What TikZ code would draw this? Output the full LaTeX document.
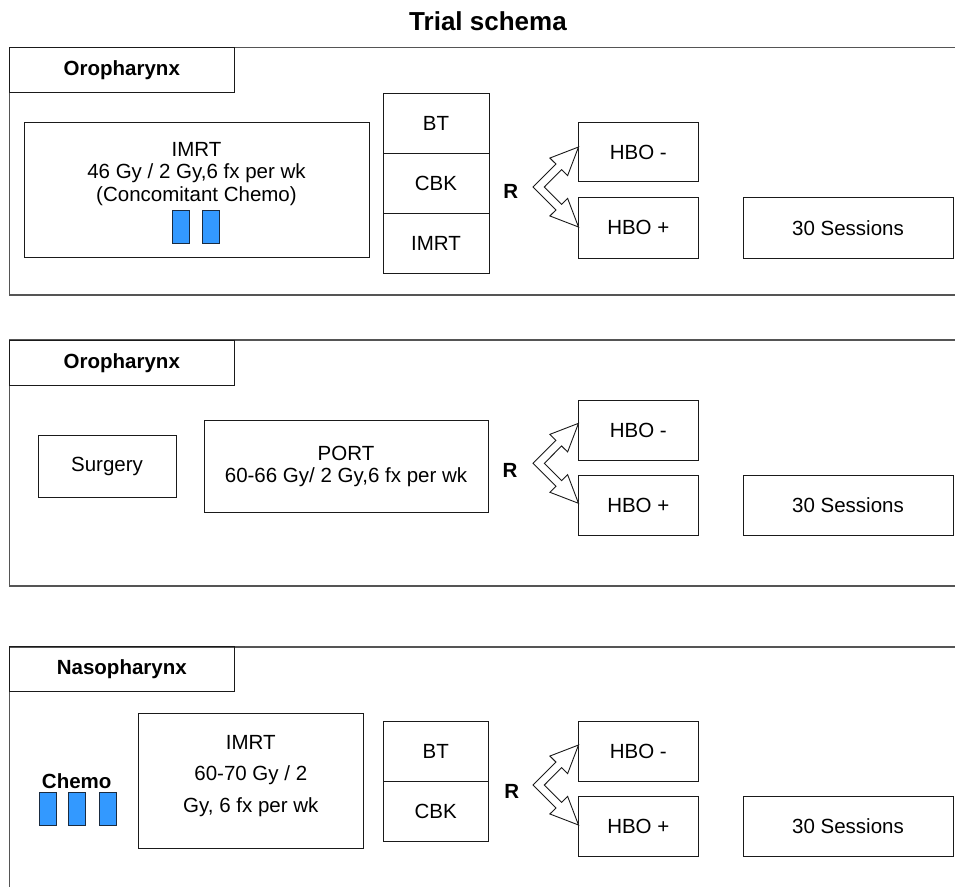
\documentclass[tikz,border=0pt]{standalone}
\usepackage{fontspec}
\setmainfont{Liberation Sans}
\usetikzlibrary{calc}
\definecolor{boxline}{HTML}{1A1A1A}
\definecolor{panelline}{HTML}{555555}
\definecolor{chemoblue}{HTML}{3399FF}
\definecolor{chemoedge}{HTML}{1A2B40}
\tikzset{
  bx/.style={draw=boxline, line width=0.9pt, rectangle, inner sep=0pt, outer sep=0pt, align=center, font=\fontsize{20.5}{23}\selectfont},
  lbl/.style={font=\fontsize{20.5}{23}\selectfont\bfseries},
  txt/.style={inner sep=0pt, outer sep=0pt, align=center, font=\fontsize{20.5}{22.5}\selectfont},
  boldtxt/.style={inner sep=0pt, outer sep=0pt, font=\fontsize{20.5}{23}\selectfont\bfseries},
  pill/.style={draw=chemoedge, fill=chemoblue, line width=1pt, minimum width=17pt, minimum height=32.5pt, inner sep=0pt},
  panel/.style={draw=panelline, line width=1.6pt},
  chev/.style={draw=boxline, fill=white, line width=0.9pt, line join=miter},
}
\newcommand\bxat[7][]{\node[bx,#1,minimum width={#5pt-#3pt},minimum height={#6pt-#4pt}] (#2) at ({(#3+#5)/2},{(#4+#6)/2}) {#7};}
\newcommand\chevron[2]{%
  \coordinate (#1c) at (538.7,#2);
  \coordinate (#1o) at (533.04,#2);
  \coordinate (#1i) at (544.36,#2);
  \coordinate (#1t) at (578.5,{#2-40});
  \coordinate (#1b) at (578.5,{#2+40});
  \coordinate (#1s) at ($(#1t)!28pt!(#1c)$);
  \coordinate (#1r) at ($(#1b)!28pt!(#1c)$);
  \draw[chev] (#1o) -- ($(#1s)!4pt!90:(#1t)$) -- ($(#1s)!12.5pt!90:(#1t)$) -- (#1t)
    -- ($(#1s)!12.5pt!-90:(#1t)$) -- ($(#1s)!4pt!-90:(#1t)$) -- (#1i)
    -- ($(#1r)!4pt!90:(#1b)$) -- ($(#1r)!12.5pt!90:(#1b)$) -- (#1b)
    -- ($(#1r)!12.5pt!-90:(#1b)$) -- ($(#1r)!4pt!-90:(#1b)$) -- cycle;
}
\begin{document}
\begin{tikzpicture}[x=1pt,y=-1pt]
\useasboundingbox (0,0) rectangle (955,886);
\node[font=\fontsize{26}{30}\selectfont\bfseries, inner sep=0pt] (title) at (488,21) {Trial schema};

% ---------- panel 1 ----------
\draw[panel] (956,47.3) -| (9.3,295) -- (956,295);
\bxat[lbl]{lab1}{9.3}{47.3}{234.3}{92.7}{Oropharynx}
\bxat{imrt1}{24}{122.7}{369.3}{257.3}{}
\node[txt, anchor=north] (imrt1t) at (196.5,142) {IMRT\\46 Gy / 2 Gy,6 fx per wk\\(Concomitant Chemo)};
\node[pill] (c1a) at (181.4,227) {};
\node[pill] (c1b) at (211.4,227) {};
\bxat{bt1}{383}{93}{489}{153}{BT}
\bxat{cbk1}{383}{153}{489}{213}{CBK}
\bxat{im1}{383}{213}{489}{273}{IMRT}
\node[boldtxt] (r1) at (510.7,191.7) {R};
\bxat{hm1}{578.3}{122.7}{698.3}{181.7}{HBO -}
\bxat{hp1}{578.3}{197.5}{698.3}{258}{HBO +}
\bxat{ss1}{743}{197.5}{953}{258}{30 Sessions}
\chevron{pa}{187}

% ---------- panel 2 ----------
\draw[panel] (956,340) -| (9.3,586) -- (956,586);
\bxat[lbl]{lab2}{9.3}{340}{234.3}{385.5}{Oropharynx}
\bxat{surg}{38}{435}{176}{497}{Surgery}
\bxat{port}{204}{420}{488}{512}{}
\node[txt, anchor=north] (portt) at (346,446) {PORT\\60-66 Gy/ 2 Gy,6 fx per wk};
\node[boldtxt] (r2) at (510,470) {R};
\bxat{hm2}{578.3}{400}{698.3}{460}{HBO -}
\bxat{hp2}{578.3}{475}{698.3}{535}{HBO +}
\bxat{ss2}{743}{475}{953}{535}{30 Sessions}
\chevron{pb}{463.3}

% ---------- panel 3 ----------
\draw[panel] (956,646.7) -| (9.3,890);
\bxat[lbl]{lab3}{9.3}{646.7}{234.3}{691.7}{Nasopharynx}
\node[boldtxt, anchor=base] (chemo) at (76.7,788) {Chemo};
\node[pill] (c3a) at (47.5,809) {};
\node[pill] (c3b) at (77,809) {};
\node[pill] (c3c) at (107.5,809) {};
\bxat{imrt3}{138.3}{713.3}{363.3}{848.3}{}
\node[txt, font=\fontsize{20.5}{31.5}\selectfont, anchor=north] (imrt3t) at (250.8,735.3) {IMRT\\60-70 Gy / 2\\Gy, 6 fx per wk};
\bxat{bt3}{383.5}{721.7}{488}{781}{BT}
\bxat{cbk3}{383.5}{781}{488}{841}{CBK}
\node[boldtxt] (r3) at (511.7,791.7) {R};
\bxat{hm3}{578.3}{721.7}{698.3}{781.7}{HBO -}
\bxat{hp3}{578.3}{796.7}{698.3}{856.3}{HBO +}
\bxat{ss3}{743}{796.7}{953}{856.3}{30 Sessions}
\chevron{pc}{785}
\end{tikzpicture}
\end{document}
